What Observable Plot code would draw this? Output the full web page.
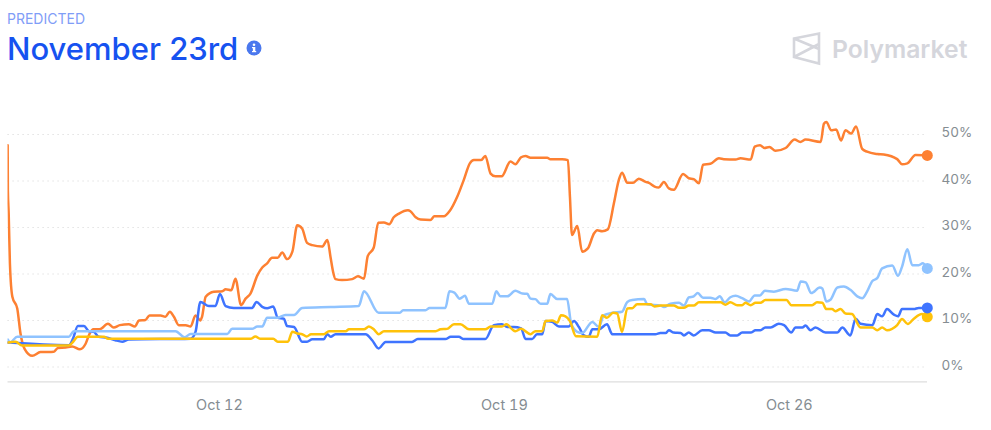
<!DOCTYPE html>
<html><head><meta charset="utf-8">
<script src="https://cdn.jsdelivr.net/npm/d3@7"></script>
<script src="https://cdn.jsdelivr.net/npm/@observablehq/plot@0.6"></script>
<style>
html,body{margin:0;padding:0;background:#fff;font-family:Inter,sans-serif}
#head{position:relative;width:991px;height:110px;overflow:hidden}
#kicker{position:absolute;left:7px;top:10px;font-size:14px;line-height:17px;color:#7f9df7}
#title{position:absolute;left:7px;top:30px;font-size:31px;line-height:38px;font-weight:500;color:#1652f0}
#info{position:absolute;left:246px;top:40px}
#logo{position:absolute;left:790px;top:30px}
#brand{position:absolute;left:832px;top:33px;font-size:24.7px;line-height:32px;font-weight:600;color:#d5d6dc}
svg{display:block}
</style></head><body>
<div id="head">
  <div id="kicker">PREDICTED</div>
  <div id="title">November 23rd</div>
  <svg id="info" width="16" height="16" viewBox="0 0 16 16"><circle cx="8" cy="8" r="7.5" fill="#4a78ee"/><rect x="6.9" y="7" width="2.4" height="5" fill="#fff"/><rect x="6" y="7" width="2" height="1.2" fill="#fff"/><rect x="6" y="11" width="4.2" height="1.2" fill="#fff"/><circle cx="8" cy="4.7" r="1.3" fill="#fff"/></svg>
  <svg id="logo" width="34" height="38" viewBox="0 0 34 38"><path d="M4 8.5 L29 3.5 V33.5 L4 27 Z M4 8.5 L29 19 M4 27 L29 14" fill="none" stroke="#d5d6dc" stroke-width="2.6" stroke-linejoin="miter"/></svg>
  <div id="brand">Polymarket</div>
</div>
<div id="chart"></div>
<script>
// Each point: [day of October, percent]
const orange = [[6.795,47.7],[6.80,38.0],[6.82,33.0],[6.85,22.3],[6.91,15.1],[7.03,12.6],[7.11,7.2],[7.21,3.9],[7.40,2.4],[7.60,3.2],[7.93,3.3],[8.03,4.1],[8.22,4.2],[8.38,4.4],[8.57,3.8],[8.71,5.0],[8.81,7.2],[8.90,8.1],[9.05,8.1],[9.26,9.3],[9.40,8.5],[9.55,9.0],[9.77,9.2],[9.92,8.7],[10.02,10.0],[10.18,10.1],[10.28,11.1],[10.55,11.1],[10.67,10.8],[10.78,11.9],[10.88,10.8],[11.00,9.0],[11.17,9.0],[11.29,8.7],[11.41,11.1],[11.53,10.0],[11.57,10.8],[11.66,15.1],[11.86,16.2],[12.07,16.3],[12.15,16.7],[12.29,16.5],[12.39,19.0],[12.53,13.3],[12.64,14.7],[12.76,15.8],[12.93,19.7],[13.05,21.4],[13.17,22.3],[13.29,23.5],[13.43,23.5],[13.54,24.6],[13.66,23.2],[13.79,24.8],[13.91,30.5],[14.03,29.8],[14.15,26.7],[14.28,26.2],[14.52,25.9],[14.65,27.3],[14.73,23.5],[14.79,20.5],[14.85,18.9],[15.01,18.7],[15.26,18.9],[15.40,19.5],[15.55,19.0],[15.64,23.8],[15.79,25.7],[15.90,31.0],[16.04,31.1],[16.17,30.7],[16.28,32.2],[16.41,33.0],[16.63,33.7],[16.69,33.5],[16.82,32.2],[16.94,31.7],[17.18,31.6],[17.28,32.4],[17.51,32.4],[17.66,33.6],[17.84,36.6],[18.00,40.2],[18.15,43.8],[18.25,44.5],[18.43,44.5],[18.53,45.4],[18.66,41.6],[18.78,41.0],[18.93,41.0],[19.15,44.2],[19.27,43.6],[19.41,45.1],[19.52,45.4],[19.64,45.0],[20.05,45.0],[20.13,44.7],[20.42,44.7],[20.56,44.5],[20.61,36.6],[20.66,28.4],[20.79,30.3],[20.91,24.8],[21.05,25.5],[21.20,28.7],[21.28,29.4],[21.40,29.2],[21.54,29.6],[21.69,35.2],[21.81,40.2],[21.89,41.8],[22.02,39.6],[22.16,39.6],[22.30,40.5],[22.47,39.8],[22.55,39.6],[22.69,38.8],[22.79,38.6],[22.92,39.8],[23.04,38.4],[23.16,38.1],[23.39,41.5],[23.53,40.6],[23.65,40.4],[23.78,39.5],[23.88,43.5],[24.06,43.7],[24.27,44.9],[24.39,44.7],[24.68,44.6],[24.80,44.9],[25.05,44.6],[25.15,47.4],[25.28,47.7],[25.39,47.1],[25.51,47.3],[25.66,46.5],[25.91,47.1],[26.13,48.9],[26.27,48.4],[26.40,48.9],[26.77,48.4],[26.85,52.3],[26.91,52.7],[27.03,50.9],[27.15,51.1],[27.27,48.7],[27.38,50.9],[27.52,50.2],[27.64,51.7],[27.79,46.9],[27.91,46.3],[28.16,45.8],[28.32,45.7],[28.65,44.7],[28.77,43.6],[28.90,43.8],[29.10,45.6],[29.39,45.5]];

const lightBlue = [[6.80,5.9],[6.86,5.3],[7.03,6.5],[8.30,6.5],[8.42,7.7],[10.92,7.7],[11.14,6.4],[11.29,7.1],[12.19,7.1],[12.31,8.2],[12.80,8.2],[12.93,8.7],[13.05,8.7],[13.17,10.6],[13.42,10.6],[13.62,11.2],[13.83,11.2],[14.03,12.7],[14.73,12.9],[15.42,13.1],[15.55,16.3],[15.91,11.65],[16.43,11.65],[16.51,12.2],[17.06,12.2],[17.16,12.7],[17.55,12.7],[17.65,16.3],[17.77,16.0],[17.90,14.7],[18.03,15.3],[18.13,13.6],[18.70,13.6],[18.80,16.3],[18.90,15.2],[19.07,15.2],[19.27,16.4],[19.44,15.8],[19.56,15.75],[19.64,14.7],[19.76,14.6],[19.89,13.6],[20.05,13.6],[20.13,15.7],[20.30,14.6],[20.54,14.6],[20.64,9.35],[20.79,7.55],[20.91,7.3],[21.16,9.7],[21.32,8.6],[21.44,11.1],[21.65,11.65],[21.89,11.9],[22.02,14.0],[22.14,14.4],[22.43,14.6],[22.51,13.5],[22.84,13.2],[22.92,12.9],[23.08,13.6],[23.29,13.8],[23.41,13.2],[23.53,14.95],[23.65,15.2],[23.75,15.9],[23.88,14.9],[24.06,14.9],[24.19,14.6],[24.29,15.2],[24.41,13.9],[24.55,15.0],[24.68,15.3],[24.84,14.8],[25.01,14.1],[25.15,15.4],[25.28,15.4],[25.40,16.4],[25.62,16.2],[25.91,16.8],[26.19,16.4],[26.28,18.4],[26.40,18.2],[26.54,15.9],[26.75,17.1],[26.81,16.9],[26.91,14.1],[27.01,14.45],[27.18,17.1],[27.34,17.3],[27.50,16.6],[27.67,15.2],[27.79,14.8],[27.91,16.2],[28.04,18.5],[28.16,19.1],[28.28,21.2],[28.53,21.85],[28.67,19.6],[28.77,21.6],[28.90,25.3],[29.02,21.9],[29.18,21.9],[29.28,22.3],[29.39,21.2]];

const blue = [[6.80,5.25],[8.30,4.7],[8.40,6.1],[8.52,8.8],[8.67,8.8],[8.79,7.7],[8.91,7.55],[9.03,6.5],[9.24,6.3],[9.44,5.75],[9.61,5.45],[9.77,5.9],[11.29,6.1],[11.41,7.55],[11.53,14.0],[11.74,13.1],[11.90,13.1],[12.01,15.7],[12.15,13.1],[12.35,12.7],[12.80,12.7],[12.91,14.0],[13.05,12.95],[13.17,12.65],[13.32,13.0],[13.43,10.6],[13.58,10.4],[13.66,8.8],[13.83,8.6],[14.03,5.45],[14.15,5.45],[14.28,5.95],[14.56,5.95],[14.65,7.05],[14.73,6.5],[14.85,7.05],[15.59,7.05],[15.75,5.75],[15.91,4.0],[16.08,5.4],[16.73,5.4],[16.87,6.0],[17.55,6.0],[17.68,6.5],[17.88,6.5],[18.00,6.0],[18.53,6.0],[18.74,9.0],[18.94,9.2],[19.07,8.6],[19.23,8.6],[19.41,8.3],[19.52,6.0],[19.68,6.0],[19.80,7.05],[19.93,7.05],[20.01,9.9],[20.17,9.7],[20.34,8.7],[20.58,8.7],[20.71,9.9],[20.83,8.6],[20.95,6.8],[21.07,6.5],[21.16,8.1],[21.32,8.1],[21.52,9.2],[21.65,7.05],[22.71,7.05],[22.83,7.3],[22.96,7.3],[23.04,7.9],[23.16,7.4],[23.33,7.3],[23.41,6.8],[23.53,7.4],[23.65,6.8],[23.86,7.9],[24.02,7.9],[24.19,7.4],[24.43,7.4],[24.55,6.8],[24.72,6.8],[24.84,7.4],[25.05,7.4],[25.17,7.9],[25.29,7.9],[25.41,8.5],[25.54,8.5],[25.74,9.3],[25.87,9.0],[26.05,7.4],[26.15,8.5],[26.32,8.5],[26.40,8.9],[26.52,7.9],[26.64,8.5],[26.89,7.4],[27.18,7.4],[27.30,8.5],[27.50,6.8],[27.63,10.4],[27.75,9.3],[28.04,9.0],[28.16,11.4],[28.28,10.9],[28.40,12.45],[28.57,11.25],[28.67,10.9],[28.77,12.45],[29.06,12.45],[29.18,12.7],[29.39,12.7]];

const yellow = [[6.80,5.25],[6.99,5.45],[7.15,4.6],[8.30,4.6],[8.38,5.2],[8.52,6.5],[9.16,6.5],[9.26,6.05],[12.76,6.05],[12.88,6.55],[13.01,6.05],[13.32,6.05],[13.43,5.45],[13.68,5.45],[13.79,7.6],[13.91,7.2],[14.03,7.05],[14.14,6.55],[14.25,7.05],[14.56,7.05],[14.69,7.7],[15.10,7.7],[15.18,8.1],[15.55,8.1],[15.67,8.7],[15.79,8.1],[15.91,7.05],[16.04,7.7],[17.31,7.7],[17.43,8.1],[17.59,8.2],[17.76,9.2],[17.92,9.2],[18.13,8.1],[18.53,8.1],[18.66,8.7],[18.94,8.7],[19.05,9.2],[19.19,8.1],[19.27,7.7],[19.41,8.2],[19.64,7.05],[19.76,7.7],[19.93,7.7],[20.01,9.9],[20.17,10.0],[20.30,9.55],[20.39,11.15],[20.50,10.9],[20.61,9.85],[20.76,6.6],[21.28,6.5],[21.40,11.15],[21.52,10.6],[21.67,11.65],[21.77,11.5],[21.89,7.55],[22.02,12.6],[22.14,12.65],[22.26,13.5],[22.59,13.5],[22.69,13.0],[22.84,13.2],[23.16,13.2],[23.29,12.75],[23.41,12.75],[23.53,13.2],[23.65,13.2],[23.78,13.9],[24.31,13.9],[24.43,13.4],[24.55,13.9],[24.72,13.3],[24.84,13.3],[24.92,13.8],[25.05,13.3],[25.17,13.8],[25.29,13.8],[25.41,14.4],[25.93,14.4],[26.05,13.3],[26.56,13.3],[26.68,13.9],[26.81,13.8],[26.91,12.45],[27.05,12.45],[27.13,12.0],[27.26,12.45],[27.38,11.5],[27.54,11.4],[27.75,8.5],[28.04,8.5],[28.16,7.9],[28.28,8.5],[28.40,7.9],[28.65,9.0],[28.77,10.3],[28.91,9.25],[29.06,10.4],[29.26,11.4],[29.39,10.8]];

const yTicks = [0,10,20,30,40,50];
const xTickDays = [12,19,26];
const axisFloor = -3.2;
const dayStart = 6.803, dayEnd = 29.395;

const seriesColors = {orange:"#fd8032", lightBlue:"#8fc3ff", blue:"#3f74ff", yellow:"#ffc20a"};
const date = d => new Date(Date.UTC(2024,9,1) + (d-1)*864e5);
const rows = a => a.map(([d,p]) => ({t:date(d), v:p}));
const lineOf = (a,c) => Plot.line(rows(a),{x:"t",y:"v",stroke:c,strokeWidth:2.5,curve:"monotone-x",strokeLinejoin:"round",clip:true});
const dotOf = (a,c) => Plot.dot(rows(a).slice(-1),{x:"t",y:"v",r:5.5,fill:c,stroke:null});
const T0 = date(dayStart), T1 = date(dayEnd);

const chart = Plot.plot({
  width:991, height:320, marginTop:0, marginLeft:7.5, marginRight:64, marginBottom:49,
  style:{fontFamily:"Inter,sans-serif",background:"#fff",overflow:"visible"},
  x:{type:"utc",domain:[T0,T1],range:[7.5,927]},
  y:{domain:[0,50],range:[256.5,24]},
  marks:[
    Plot.ruleY(yTicks,{x1:T0,x2:T1,stroke:"#dcdcdc",strokeWidth:1.2,strokeDasharray:"1.2 3.8"}),
    Plot.ruleY([axisFloor],{x1:T0,x2:T1,stroke:"#dedede",strokeWidth:1.2}),
    Plot.axisY(yTicks,{anchor:"right",tickSize:0,tickPadding:14,dy:-1.5,fontSize:13.5,fill:"#858d92",tickFormat:d=>d+"%",label:null}),
    Plot.axisX(xTickDays.map(date),{anchor:"bottom",tickSize:0,tickPadding:18,fontSize:14.5,fill:"#858d92",tickFormat:d3.utcFormat("%b %-d"),label:null}),
    lineOf(orange,seriesColors.orange),
    lineOf(blue,seriesColors.blue),
    lineOf(lightBlue,seriesColors.lightBlue),
    lineOf(yellow,seriesColors.yellow),
    dotOf(orange,seriesColors.orange),
    dotOf(lightBlue,seriesColors.lightBlue),
    dotOf(yellow,seriesColors.yellow),
    dotOf(blue,seriesColors.blue)
  ]
});
document.getElementById("chart").append(chart);
</script>
</body></html>
